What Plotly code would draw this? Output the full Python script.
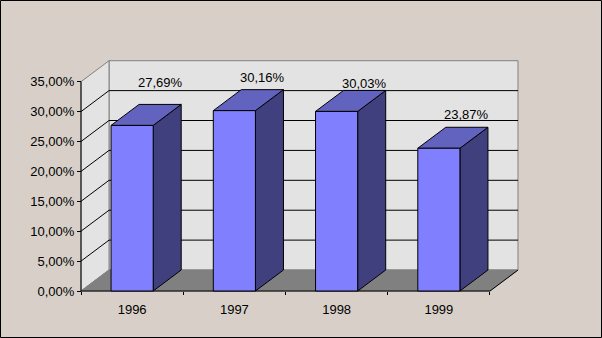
import plotly.graph_objects as go

# ---- data ----
years = ["1996", "1997", "1998", "1999"]
values = [27.69, 30.16, 30.03, 23.87]
y_ticks = [0, 5, 10, 15, 20, 25, 30, 35]
y_tick_labels = ["0,00%", "5,00%", "10,00%", "15,00%", "20,00%", "25,00%", "30,00%", "35,00%"]
label_pos = [34.8, 35.7, 34.7, 29.5]   # heights of the data labels (front-axis units)

# ---- geometry (in data units) ----
DX = 0.274      # depth offset along x (category units)
DY = 3.51       # depth offset along y (percent units)
HALF = 0.206    # half bar width
YMAX = 35
X0, X1 = -0.5, len(years) - 0.5

W, H = 602, 338
ML, MR, MT, MB = 77, 80, 57, 43
pw, ph = W - ML - MR, H - MT - MB
xpad = 4 / 102.25
ypad = 4 / 5.98
xr = [X0 - xpad, X1 + DX + xpad]
yr = [-ypad, -ypad + ph / 5.98]

WALL = "#E3E3E3"
FLOOR = "#808080"
EDGE = "#808080"
FRONT = "#8080FF"
TOP = "#6262BF"
SIDE = "#40407F"
FONT = dict(family="Liberation Sans, Arial, sans-serif", size=13, color="black")

fig = go.Figure()

def poly(xs, ys, fill, line_color, width=1):
    fig.add_trace(go.Scatter(x=xs + [xs[0]], y=ys + [ys[0]], mode="lines",
                             fill="toself", fillcolor=fill,
                             line=dict(color=line_color, width=width),
                             hoverinfo="skip", showlegend=False))

def lines(xs, ys, color, width=1):
    fig.add_trace(go.Scatter(x=xs, y=ys, mode="lines",
                             line=dict(color=color, width=width),
                             hoverinfo="skip", showlegend=False))

# back wall
poly([X0 + DX, X1 + DX, X1 + DX, X0 + DX], [DY, DY, YMAX + DY, YMAX + DY], WALL, EDGE)
# side wall
poly([X0, X0 + DX, X0 + DX, X0], [0, DY, YMAX + DY, YMAX], WALL, EDGE)
# floor
poly([X0, X1, X1 + DX, X0 + DX], [0, 0, DY, DY], FLOOR, FLOOR)
# floor right edge
lines([X1, X1 + DX], [0, DY], "black")

# gridlines
gx, gy = [], []
for t in y_ticks[1:-1]:
    gx += [X0, X0 + DX, X1 + DX, None]
    gy += [t, t + DY, t + DY, None]
lines(gx, gy, "black")

# y axis line and x axis line
lines([X0, X0], [0, YMAX], "black")
lines([X0, X1], [0, 0], "black")

# bars
for i, v in enumerate(values):
    l, r = i - HALF, i + HALF
    poly([r, r + DX, r + DX, r], [0, DY, v + DY, v], SIDE, "black")
    poly([l, r, r + DX, l + DX], [v, v, v + DY, v + DY], TOP, "black")
    poly([l, r, r, l], [0, 0, v, v], FRONT, "black")

# invisible trace for boundary-tick axis
fig.add_trace(go.Scatter(x=[0], y=[0], xaxis="x2", mode="markers",
                         marker=dict(opacity=0), hoverinfo="skip", showlegend=False))

# data labels
for i, v in enumerate(values):
    fig.add_annotation(x=i + DX, y=label_pos[i], xref="x", yref="y",
                       text=f"{v:.2f}".replace(".", ",") + "%",
                       showarrow=False, font=FONT)

xpos = ypad / (yr[1] - yr[0])
ypos = xpad / (xr[1] - xr[0])

fig.update_layout(
    width=W, height=H,
    margin=dict(l=ML, r=MR, t=MT, b=MB),
    paper_bgcolor="#D8D0C8",
    plot_bgcolor="rgba(0,0,0,0)",
    font=FONT,
    showlegend=False,
    xaxis=dict(range=xr, anchor="free", position=xpos,
               tickvals=list(range(len(years))), ticktext=years,
               ticks="outside", ticklen=6, tickcolor="rgba(0,0,0,0)",
               showgrid=False, zeroline=False, showline=False, fixedrange=True,
               tickfont=FONT),
    xaxis2=dict(range=xr, overlaying="x", anchor="free", position=xpos,
                tickvals=[X0 + k for k in range(len(years) + 1)],
                ticks="outside", ticklen=3, tickcolor="black", tickwidth=1,
                showticklabels=False, showgrid=False, zeroline=False,
                showline=False, fixedrange=True),
    yaxis=dict(range=yr, anchor="free", position=ypos,
               tickvals=y_ticks, ticktext=y_tick_labels,
               ticks="outside", ticklen=4, tickcolor="black",
               showgrid=False, zeroline=False, showline=False, fixedrange=True,
               tickfont=FONT),
    shapes=[dict(type="rect", xref="paper", yref="paper",
                 x0=(0.5 - ML) / pw, x1=(W - 0.5 - ML) / pw,
                 y0=(ph + MT - (H - 0.5)) / ph, y1=(ph + MT - 0.5) / ph,
                 line=dict(color="black", width=1), layer="above")],
)

fig.write_html("out.html")
